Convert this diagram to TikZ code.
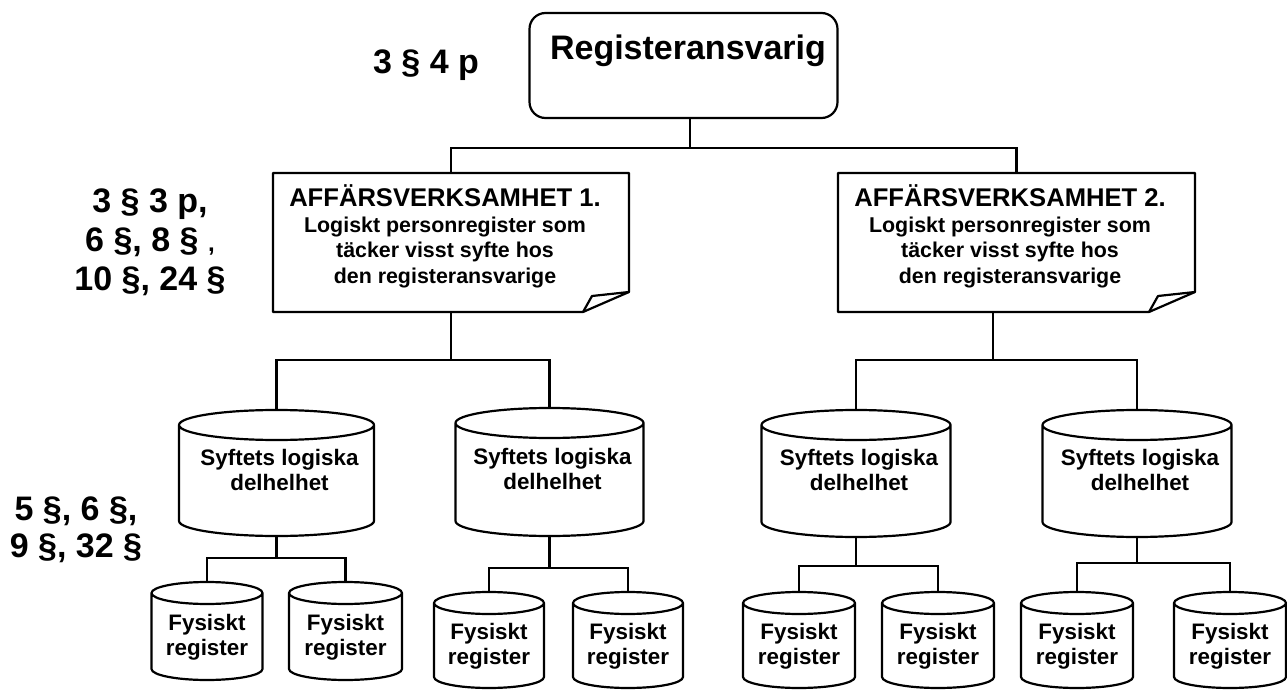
\documentclass[tikz,border=0pt]{standalone}
\usepackage{fontspec}
\setmainfont{Liberation Sans}
\usetikzlibrary{calc}

\tikzset{
  x=1pt, y=1pt,
  outline/.style={line width=2.2pt, line join=round},
  conn/.style={line width=2.2pt},
  frame/.style={inner sep=0pt, outer sep=0pt},
  bigtxt/.style={inner sep=0pt, align=center, font=\fontsize{34}{39}\selectfont\bfseries},
  lowtxt/.style={inner sep=0pt, align=center, font=\fontsize{34}{37}\selectfont\bfseries},
  notetxt/.style={inner sep=0pt, align=center, font=\fontsize{21.4}{25.5}\selectfont\bfseries},
  cyltxt/.style={inner sep=0pt, align=center, font=\fontsize{22.4}{25}\selectfont\bfseries},
}
\newcommand\notetitle{\fontsize{25.6}{26}\selectfont}

% cylinder outline around a frame node: #1 node, #2 half height of the end ellipses
\newcommand\drawcyl[2]{%
  \draw[outline] let \p1=(#1.north west), \p2=(#1.south east), \n1={(\x2-\x1)/2} in
    (\x1,{\y1-#2pt}) -- (\x1,{\y2+#2pt})
    arc[start angle=180,end angle=360,x radius=\n1,y radius=#2pt]
    -- (\x2,{\y1-#2pt})
    arc[start angle=0,end angle=180,x radius=\n1,y radius=#2pt] -- cycle
    (\x1,{\y1-#2pt}) arc[start angle=180,end angle=360,x radius=\n1,y radius=#2pt];}

% note sheet with a folded lower right corner
\newcommand\drawnote[1]{%
  \draw[outline] (#1.north west) -- (#1.north east) -- ($(#1.south east)+(0,20)$)
    -- ($(#1.south east)+(-46,0)$) -- (#1.south west) -- cycle;
  \draw[outline] ($(#1.south east)+(-46,0)$) -- ($(#1.south east)+(-37,16)$)
    -- ($(#1.south east)+(0,20)$);}

\begin{document}
\begin{tikzpicture}
\fill[white] (0,0) rectangle (1287,689);
\useasboundingbox (0,0) rectangle (1287,689);

% top level
\node[draw, outline, rounded corners=16pt, minimum width=308, minimum height=105, inner sep=0pt] (R) at (683.5,623.5) {};
\node[bigtxt, anchor=base] (Rt) at (688,629) {Registeransvarig};
\node[bigtxt, anchor=base] (P1) at (426,615) {3 § 4 p};

% business areas (text nodes anchored at the baseline of their last line)
\node[frame, minimum width=356, minimum height=139] (B1) at (451,446.5) {};
\node[frame, minimum width=357, minimum height=139] (B2) at (1016.5,446.5) {};
\drawnote{B1}
\drawnote{B2}
\node[notetxt, anchor=base] (B1t) at (445,405.5) {{\notetitle AFFÄRSVERKSAMHET 1.}\\Logiskt personregister som\\täcker visst syfte hos\\den registeransvarige};
\node[notetxt, anchor=base] (B2t) at (1010,405.5) {{\notetitle AFFÄRSVERKSAMHET 2.}\\Logiskt personregister som\\täcker visst syfte hos\\den registeransvarige};
\node[bigtxt, anchor=base] (P2) at (150,398) {3 § 3 p,\\6 §, 8 § {\fontsize{24}{24}\selectfont,}\\10 §, 24 §};

% logical parts
\node[frame, minimum width=195, minimum height=126] (L1) at (276.5,216) {};
\node[frame, minimum width=188, minimum height=128] (L2) at (549.5,217) {};
\node[frame, minimum width=189, minimum height=127] (L3) at (856,215.5) {};
\node[frame, minimum width=189, minimum height=127] (L4) at (1137,215.5) {};
\drawcyl{L1}{15}
\drawcyl{L2}{15}
\drawcyl{L3}{15}
\drawcyl{L4}{15}
\node[cyltxt, anchor=base] (L1t) at ($(L1.center)+(3,-17)$) {Syftets logiska\\delhelhet};
\node[cyltxt, anchor=base] (L2t) at ($(L2.center)+(3,-17)$) {Syftets logiska\\delhelhet};
\node[cyltxt, anchor=base] (L3t) at ($(L3.center)+(3,-17)$) {Syftets logiska\\delhelhet};
\node[cyltxt, anchor=base] (L4t) at ($(L4.center)+(3,-17)$) {Syftets logiska\\delhelhet};
\node[lowtxt, anchor=base] (P3) at (76,132) {5 §, 6 §,\\9 §, 32 §};

% physical registers
\node[frame, minimum width=111, minimum height=98] (S1) at (207,58) {};
\node[frame, minimum width=113, minimum height=98] (S2) at (345.5,58) {};
\node[frame, minimum width=110, minimum height=96] (S3) at (489,49) {};
\node[frame, minimum width=110, minimum height=96] (S4) at (628,49) {};
\node[frame, minimum width=112, minimum height=96] (S5) at (799,49) {};
\node[frame, minimum width=112, minimum height=96] (S6) at (938,49) {};
\node[frame, minimum width=112, minimum height=96] (S7) at (1077,49) {};
\node[frame, minimum width=112, minimum height=96] (S8) at (1230,49) {};
\foreach \nm in {S1,S2,S3,S4,S5,S6,S7,S8}{%
  \drawcyl{\nm}{11}
  \node[cyltxt, anchor=base] (\nm t) at ($(\nm.center)+(0,-24)$) {Fysiskt\\register};}

% junction points of the tree
\coordinate (T) at (690,541);
\coordinate (J1) at (451,329);
\coordinate (J2) at (993,329);
\coordinate (G1) at (276.5,131);
\coordinate (G2) at (549.5,121);
\coordinate (G3) at (856,123);
\coordinate (G4) at (1137,126);

% connectors
\draw[conn] (R.south -| T) -- (T);
\draw[conn] (B1.north) |- (T) -| (B2.north);
\draw[conn] (B1.south) -- (J1);
\draw[conn] (L1.north) |- (J1) -| (L2.north);
\draw[conn] (J2 |- B2.south) -- (J2);
\draw[conn] (L3.north) |- (J2) -| (L4.north);
\draw[conn] (L1.south) -- (G1);
\draw[conn] (S1.north) |- (G1) -| (S2.north);
\draw[conn] (L2.south) -- (G2);
\draw[conn] (S3.north) |- (G2) -| (S4.north);
\draw[conn] (L3.south) -- (G3);
\draw[conn] (S5.north) |- (G3) -| (S6.north);
\draw[conn] (L4.south) -- (G4);
\draw[conn] (S7.north) |- (G4) -| (S8.north);
\end{tikzpicture}
\end{document}
